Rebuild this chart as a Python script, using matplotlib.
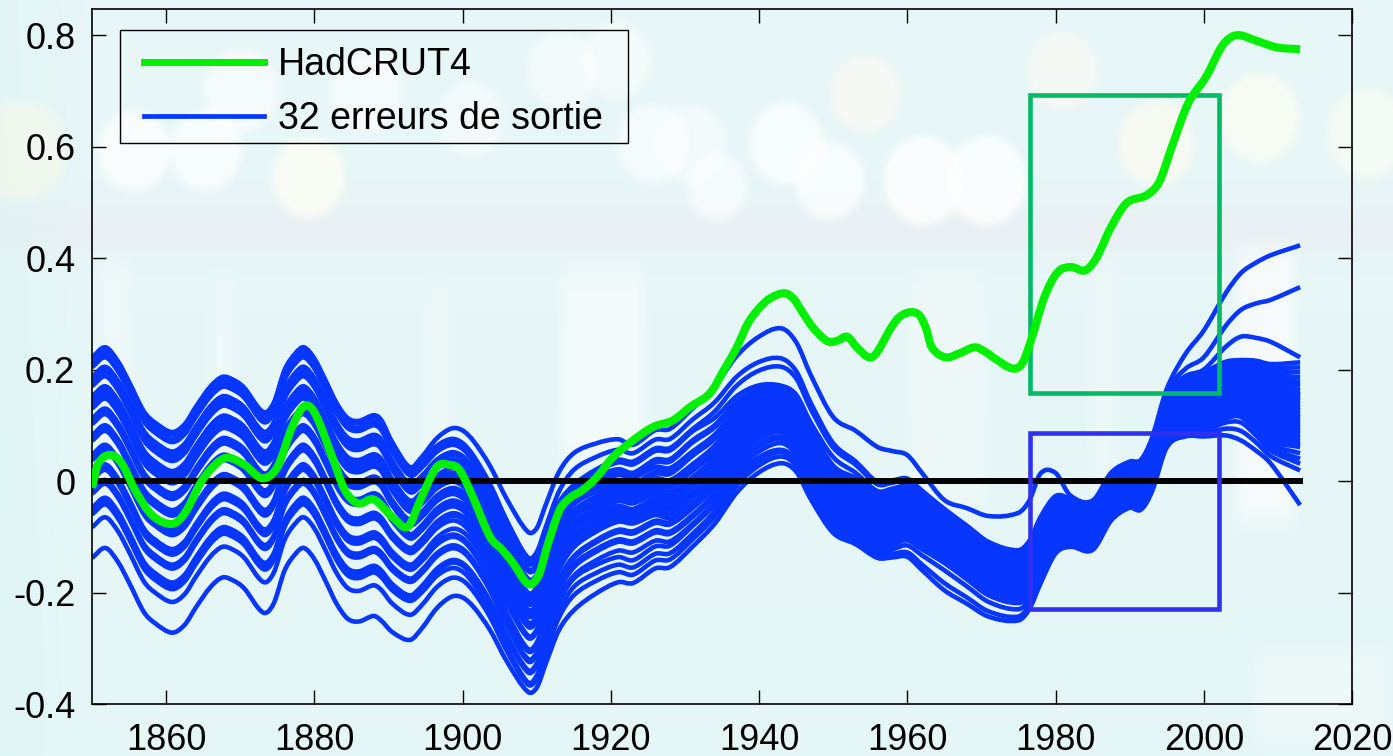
import numpy as np
import matplotlib
matplotlib.use("Agg")
import matplotlib.pyplot as plt
from matplotlib.patches import Rectangle, PathPatch
from matplotlib.path import Path
from matplotlib.lines import Line2D

plt.rcParams['font.family'] = ['Liberation Sans', 'DejaVu Sans']
plt.rcParams['axes.unicode_minus'] = False

# HadCRUT4 smoothed anomaly
had_years = [1850.0, 1850.8, 1852.4, 1854.0, 1855.8, 1858.1, 1860.8, 1862.5, 1864.8, 1867.0,
             1868.4, 1870.6, 1873.0, 1875.0, 1877.0, 1878.7, 1880.1, 1882.4, 1884.1, 1885.9,
             1888.0, 1890.5, 1892.6, 1894.3, 1896.5, 1898.3, 1899.6, 1901.4, 1903.7, 1905.4,
             1906.8, 1908.9, 1910.3, 1911.4, 1913.1, 1914.5, 1916.2, 1918.1, 1920.3, 1923.0,
             1925.7, 1928.4, 1930.7, 1933.4, 1935.5, 1937.0, 1938.5, 1940.0, 1941.5, 1943.4,
             1944.6, 1946.0, 1947.0, 1948.2, 1949.4, 1950.6, 1951.9, 1953.2, 1954.8, 1955.8,
             1957.9, 1959.0, 1960.4, 1961.6, 1962.5, 1963.3, 1965.2, 1967.0, 1969.1, 1970.5,
             1971.8, 1974.2, 1975.5, 1976.7, 1978.5, 1980.3, 1982.1, 1984.0, 1985.5, 1987.5,
             1989.6, 1992.3, 1994.0, 1995.7, 1997.9, 2000.3, 2002.3, 2003.5, 2004.8, 2006.9,
             2009.9, 2013.0]
had_vals = [-0.012, 0.030, 0.047, 0.032, -0.016, -0.061, -0.077, -0.058, 0.000, 0.034,
            0.042, 0.029, 0.005, 0.025, 0.097, 0.135, 0.121, 0.044, -0.016, -0.040,
            -0.033, -0.064, -0.082, -0.034, 0.025, 0.029, 0.020, -0.029, -0.100, -0.124,
            -0.147, -0.185, -0.168, -0.118, -0.052, -0.030, -0.016, 0.007, 0.043, 0.073,
            0.097, 0.109, 0.133, 0.158, 0.205, 0.240, 0.283, 0.310, 0.328, 0.337,
            0.328, 0.300, 0.280, 0.262, 0.250, 0.252, 0.259, 0.240, 0.222, 0.229,
            0.277, 0.295, 0.303, 0.298, 0.275, 0.240, 0.222, 0.229, 0.240, 0.232,
            0.220, 0.202, 0.211, 0.253, 0.330, 0.375, 0.384, 0.378, 0.400, 0.456,
            0.499, 0.513, 0.537, 0.600, 0.678, 0.725, 0.777, 0.795, 0.800, 0.791,
            0.778, 0.775]

# centre line of the 32 output-error curves
err_years = [1850.0, 1851.8, 1853.5, 1855.0, 1857.0, 1858.5, 1860.8, 1862.5, 1864.0, 1866.0,
             1867.6, 1869.0, 1870.5, 1873.1, 1874.5, 1876.0, 1877.5, 1878.6, 1880.0, 1881.5,
             1883.0, 1884.5, 1886.0, 1888.0, 1889.0, 1890.5, 1892.9, 1894.5, 1896.5, 1898.5,
             1900.0, 1901.5, 1903.7, 1906.0, 1908.8, 1910.0, 1911.2, 1913.0, 1915.0, 1918.0,
             1921.0, 1923.0, 1926.0, 1928.0, 1931.0, 1934.0, 1937.0, 1940.0, 1943.0, 1945.0,
             1947.0, 1950.0, 1953.0, 1956.0, 1958.0, 1960.0, 1962.0, 1965.0, 1968.0, 1971.0,
             1975.0, 1976.5, 1978.0, 1980.0, 1982.0, 1985.0, 1987.5, 1990.0, 1991.5, 1993.0,
             1995.0, 1997.5, 2000.0, 2003.0, 2005.0, 2007.0, 2009.0, 2013.0]
err_centre = [0.052, 0.070, 0.045, 0.008, -0.045, -0.065, -0.082, -0.068, -0.037, 0.000,
              0.017, 0.012, -0.002, -0.046, -0.030, 0.030, 0.060, 0.070, 0.050, 0.011,
              -0.030, -0.057, -0.062, -0.052, -0.060, -0.100, -0.145, -0.125, -0.090, -0.070,
              -0.072, -0.090, -0.132, -0.190, -0.245, -0.235, -0.190, -0.125, -0.085, -0.060,
              -0.045, -0.050, -0.035, -0.040, -0.015, 0.020, 0.070, 0.100, 0.110, 0.095,
              0.045, -0.015, -0.035, -0.060, -0.055, -0.050, -0.070, -0.100, -0.130, -0.160,
              -0.175, -0.160, -0.120, -0.075, -0.071, -0.080, -0.030, -0.010, -0.010, 0.026,
              0.110, 0.140, 0.150, 0.165, 0.165, 0.150, 0.130, 0.100]

# spread of the 32 curves about the centre line, top to bottom
spread_years = [1850.0, 1889.0, 1892.9, 1908.8, 1915.0, 1923.0, 1931.0, 1943.0, 1950.0, 1956.0,
                1965.0, 1975.0, 1978.0, 1982.0, 1990.0, 1995.0, 2000.0, 2005.0, 2009.0, 2013.0]
spread_early = [0.170, 0.166, 0.158, 0.152, 0.135, 0.130, 0.124, 0.118, 0.100, 0.096,
                0.090, 0.084, 0.078, 0.060, 0.055, 0.050, 0.030, 0.026, 0.020, -0.005,
                -0.010, -0.015, -0.040, -0.045, -0.050, -0.068, -0.075, -0.100, -0.106, -0.112,
                -0.135, -0.190]
spread = [
    spread_early,
    spread_early,
    [0.170, 0.166, 0.160, 0.155, 0.140, 0.135, 0.130, 0.125, 0.110, 0.106, 0.100, 0.095, 0.090,
     0.075, 0.070, 0.066, 0.050, 0.046, 0.042, 0.025, 0.020, 0.016, -0.005, -0.010, -0.014,
     -0.030, -0.036, -0.060, -0.065, -0.070, -0.095, -0.140],
    [0.154, 0.108, 0.103, 0.098, 0.088, 0.084, 0.070, 0.066, 0.062, 0.045, 0.040, 0.035, 0.030,
     0.025, 0.015, 0.011, 0.007, 0.003, -0.008, -0.012, -0.016, -0.032, -0.036, -0.056, -0.060,
     -0.074, -0.078, -0.094, -0.098, -0.116, -0.120, -0.133],
    [0.135, 0.105, 0.078, 0.074, 0.070, 0.066, 0.055, 0.051, 0.047, 0.043, 0.032, 0.028, 0.024,
     0.020, 0.010, 0.006, 0.002, -0.002, -0.012, -0.016, -0.020, -0.030, -0.034, -0.050, -0.054,
     -0.065, -0.070, -0.085, -0.090, -0.105, -0.120, -0.147],
    [0.115, 0.100, 0.085, 0.080, 0.065, 0.060, 0.056, 0.045, 0.041, 0.037, 0.033, 0.029, 0.022,
     0.018, 0.014, 0.010, 0.000, -0.004, -0.008, -0.012, -0.018, -0.022, -0.026, -0.040, -0.044,
     -0.058, -0.062, -0.078, -0.092, -0.105, -0.118, -0.133],
    [0.145, 0.125, 0.108, 0.104, 0.088, 0.084, 0.068, 0.064, 0.060, 0.045, 0.041, 0.037, 0.033,
     0.022, 0.018, 0.014, 0.010, 0.006, -0.004, -0.008, -0.012, -0.016, -0.026, -0.030, -0.034,
     -0.046, -0.050, -0.062, -0.066, -0.080, -0.090, -0.103],
    [0.164, 0.110, 0.095, 0.061, 0.057, 0.053, 0.049, 0.045, 0.041, 0.038, 0.034, 0.030, 0.026,
     0.022, 0.018, 0.017, 0.013, 0.009, 0.005, 0.001, -0.004, -0.008, -0.012, -0.018, -0.022,
     -0.030, -0.034, -0.042, -0.054, -0.058, -0.066, -0.078],
    [0.130, 0.083, 0.075, 0.058, 0.043, 0.039, 0.035, 0.031, 0.027, 0.023, 0.016, 0.012, 0.008,
     0.004, 0.000, -0.003, -0.009, -0.013, -0.017, -0.021, -0.025, -0.032, -0.036, -0.040, -0.047,
     -0.051, -0.055, -0.062, -0.066, -0.070, -0.073, -0.078],
    [0.121, 0.058, 0.054, 0.042, 0.038, 0.032, 0.028, 0.024, 0.020, 0.016, 0.012, 0.008, 0.002,
     -0.002, -0.006, -0.010, -0.014, -0.018, -0.022, -0.026, -0.030, -0.034, -0.040, -0.044,
     -0.048, -0.052, -0.056, -0.060, -0.064, -0.070, -0.074, -0.078],
    [0.066, 0.050, 0.045, 0.040, 0.036, 0.032, 0.028, 0.024, 0.020, 0.016, 0.012, 0.009, 0.006,
     0.003, 0.000, -0.003, -0.006, -0.009, -0.012, -0.015, -0.018, -0.021, -0.024, -0.027, -0.030,
     -0.034, -0.038, -0.042, -0.047, -0.060, -0.083, -0.096],
    [0.118, 0.051, 0.046, 0.042, 0.038, 0.034, 0.030, 0.026, 0.022, 0.018, 0.014, 0.011, 0.008,
     0.005, 0.002, -0.001, -0.004, -0.007, -0.010, -0.013, -0.016, -0.019, -0.022, -0.025, -0.028,
     -0.032, -0.036, -0.040, -0.044, -0.055, -0.068, -0.075],
    [0.134, 0.056, 0.050, 0.045, 0.040, 0.035, 0.031, 0.027, 0.023, 0.019, 0.015, 0.011, 0.008,
     0.005, 0.002, -0.001, -0.004, -0.007, -0.010, -0.013, -0.016, -0.019, -0.022, -0.025, -0.028,
     -0.031, -0.035, -0.039, -0.044, -0.050, -0.056, -0.063],
    [0.045, 0.040, 0.036, 0.032, 0.029, 0.026, 0.023, 0.020, 0.017, 0.014, 0.011, 0.008, 0.005,
     0.003, 0.001, -0.001, -0.003, -0.005, -0.008, -0.011, -0.014, -0.017, -0.020, -0.023, -0.026,
     -0.029, -0.032, -0.035, -0.038, -0.041, -0.044, -0.047],
    [0.045, 0.042, 0.039, 0.036, 0.033, 0.030, 0.027, 0.024, 0.021, 0.018, 0.015, 0.012, 0.009,
     0.006, 0.003, 0.000, -0.002, -0.004, -0.006, -0.008, -0.010, -0.012, -0.014, -0.016, -0.018,
     -0.020, -0.023, -0.026, -0.029, -0.032, -0.035, -0.038],
    [0.055, 0.050, 0.046, 0.042, 0.038, 0.034, 0.030, 0.026, 0.022, 0.018, 0.014, 0.010, 0.007,
     0.004, 0.001, -0.002, -0.005, -0.008, -0.011, -0.014, -0.017, -0.020, -0.023, -0.026, -0.029,
     -0.032, -0.035, -0.038, -0.041, -0.044, -0.047, -0.050],
    [0.120, 0.072, 0.050, 0.045, 0.040, 0.036, 0.032, 0.028, 0.024, 0.020, 0.016, 0.012, 0.008,
     0.004, 0.000, -0.004, -0.008, -0.012, -0.016, -0.020, -0.024, -0.028, -0.032, -0.036, -0.040,
     -0.044, -0.048, -0.052, -0.056, -0.060, -0.065, -0.070],
    [0.208, 0.142, 0.094, 0.052, 0.047, 0.042, 0.038, 0.034, 0.030, 0.026, 0.022, 0.018, 0.014,
     0.010, 0.006, 0.002, -0.002, -0.006, -0.010, -0.014, -0.018, -0.022, -0.026, -0.030, -0.034,
     -0.038, -0.042, -0.046, -0.050, -0.060, -0.075, -0.092],
    [0.275, 0.195, 0.120, 0.080, 0.074, 0.068, 0.062, 0.056, 0.050, 0.044, 0.038, 0.032, 0.026,
     0.020, 0.014, 0.008, 0.002, -0.004, -0.010, -0.016, -0.022, -0.028, -0.034, -0.040, -0.046,
     -0.052, -0.058, -0.064, -0.070, -0.075, -0.085, -0.098],
    [0.323, 0.248, 0.122, 0.113, 0.104, 0.095, 0.086, 0.078, 0.071, 0.063, 0.056, 0.051, 0.045,
     0.039, 0.033, 0.027, 0.021, 0.015, 0.009, 0.003, -0.003, -0.009, -0.015, -0.021, -0.028,
     -0.034, -0.039, -0.050, -0.060, -0.069, -0.081, -0.143],
]

# highlighted periods: (x0, x1, y0, y1)
box_warm = (1976.5, 2002.0, 0.158, 0.692)
box_err = (1976.5, 2002.0, -0.230, 0.086)

x_ticks = [1860, 1880, 1900, 1920, 1940, 1960, 1980, 2000, 2020]
y_ticks = [-0.4, -0.2, 0, 0.2, 0.4, 0.6, 0.8]

GREEN = '#00F000'
BLUE = '#0636FF'
W, H = 1393, 756


def smooth_path(x, y):
    # cubic Hermite segments through the points, slopes from neighbours
    x = np.asarray(x, float)
    y = np.asarray(y, float)
    m = np.empty_like(y)
    m[1:-1] = (y[2:] - y[:-2]) / (x[2:] - x[:-2])
    m[0] = (y[1] - y[0]) / (x[1] - x[0])
    m[-1] = (y[-1] - y[-2]) / (x[-1] - x[-2])
    verts = [(x[0], y[0])]
    codes = [Path.MOVETO]
    for i in range(len(x) - 1):
        h = x[i + 1] - x[i]
        verts += [(x[i] + h / 3, y[i] + m[i] * h / 3),
                  (x[i + 1] - h / 3, y[i + 1] - m[i + 1] * h / 3),
                  (x[i + 1], y[i + 1])]
        codes += [Path.CURVE4] * 3
    return Path(verts, codes)


def backdrop(h, w):
    yy, xx = np.mgrid[0:h, 0:w].astype(float)
    img = np.empty((h, w, 3))
    top = np.array([0.91, 0.965, 0.97])
    low = np.array([0.90, 0.968, 0.968])
    t = (yy / h)[..., None]
    img[:] = top * (1 - t) + low * t
    # greyish horizon band
    band = np.exp(-((yy - 228) / 28.0) ** 2)[..., None] * 0.55
    img = img * (1 - band) + np.array([0.925, 0.925, 0.945]) * band
    # cyan tint at far left
    edge = np.clip(1 - xx / 90.0, 0, 1)[..., None] * 0.35
    img = img * (1 - edge) + np.array([0.84, 0.95, 0.96]) * edge

    def blend(mask, color):
        nonlocal img
        mk = mask[..., None]
        img = img * (1 - mk) + np.array(color) * mk

    # soft pale columns in the lower half
    columns = [(95, 135, 250, 520, 0.45), (205, 240, 260, 500, 0.35), (420, 455, 270, 520, 0.35),
               (555, 650, 255, 470, 0.6), (905, 990, 260, 520, 0.4), (1085, 1120, 250, 500, 0.3),
               (1230, 1300, 235, 535, 0.75), (1250, 1393, 640, 756, 0.35)]
    for x0, x1, y0, y1, a in columns:
        mx = np.clip(np.minimum(xx - x0, x1 - xx) / 14.0, 0, 1)
        my = np.clip(np.minimum(yy - y0, y1 - yy) / 30.0, 0, 1)
        blend(mx * my * a, (0.985, 0.99, 0.99))

    # bokeh discs
    discs = [(20, 150, 45, (1.0, 0.98, 0.9), 0.45), (134, 150, 36, (1, 1, 1), 0.75),
             (205, 150, 36, (1, 1, 1), 0.7), (241, 90, 37, (1, 1, 1), 0.6),
             (308, 177, 36, (1.0, 1.0, 0.96), 0.75), (366, 93, 36, (1, 1, 1), 0.6),
             (470, 118, 33, (1, 1, 1), 0.5), (562, 70, 35, (1, 1, 1), 0.5),
             (616, 60, 35, (1, 1, 1), 0.45), (652, 143, 35, (1, 1, 1), 0.6),
             (690, 143, 35, (1, 1, 1), 0.5), (717, 187, 30, (1, 1, 1), 0.6),
             (786, 143, 37, (1, 1, 1), 0.7), (829, 180, 35, (1, 1, 1), 0.7),
             (865, 93, 35, (1.0, 0.98, 0.96), 0.6), (923, 180, 40, (1, 1, 1), 0.8),
             (986, 180, 40, (1, 1, 1), 0.8), (1062, 70, 35, (1.0, 0.98, 0.96), 0.55),
             (1156, 143, 38, (1.0, 0.99, 0.94), 0.65), (1259, 117, 40, (1.0, 1.0, 0.95), 0.65),
             (1367, 133, 40, (1.0, 1.0, 0.95), 0.55)]
    for cx, cy, r, col, a in discs:
        d = np.hypot(xx - cx, (yy - cy) * 0.9)
        blend(np.clip((r - d) / 10.0 + 0.5, 0, 1) * a, col)
    return np.clip(img, 0, 1)


fig = plt.figure(figsize=(W / 100, H / 100), dpi=100)
bg = fig.add_axes([0, 0, 1, 1])
bg.imshow(backdrop(H, W), aspect='auto', interpolation='bilinear')
bg.axis('off')

ax = fig.add_axes([92 / W, 1 - 704 / H, 1260 / W, 695 / H])
ax.patch.set_alpha(0)

yrs = np.array(err_years)
centre = np.array(err_centre)
offs = np.array(spread)
for i in range(offs.shape[1]):
    member = centre + np.interp(yrs, spread_years, offs[:, i])
    ax.add_patch(PathPatch(smooth_path(yrs, member), fill=False, edgecolor=BLUE, lw=3.3,
                           joinstyle='round', capstyle='butt', zorder=2))

ax.plot([err_years[0], err_years[-1]], [0, 0], color='black', lw=4.3, zorder=3)

for (x0, x1, y0, y1), col in [(box_warm, '#00BA66'), (box_err, '#3030F0')]:
    ax.add_patch(Rectangle((x0, y0), x1 - x0, y1 - y0, fill=False, edgecolor=col,
                           lw=3.3, zorder=4))

ax.add_patch(PathPatch(smooth_path(had_years, had_vals), fill=False, edgecolor=GREEN, lw=5.8,
                       joinstyle='round', capstyle='butt', zorder=5))

ax.set_xlim(1850, 2020)
ax.set_ylim(-0.4, 0.847)
ax.set_xticks(x_ticks)
ax.set_yticks(y_ticks)
ax.set_yticklabels(['%g' % v for v in y_ticks])
ax.tick_params(direction='in', length=10, width=1.0, top=True, right=True, labelsize=26)
ax.tick_params(axis='y', pad=12)
ax.tick_params(axis='x', pad=14)
for s in ax.spines.values():
    s.set_linewidth(1.2)

# legend box drawn separately, entries placed inside it
ax.add_patch(Rectangle((28 / 1260, 561 / 695), 508 / 1260, 113 / 695, transform=ax.transAxes,
                       fill=False, edgecolor='black', lw=1.0, zorder=6))
handles = [Line2D([], [], color=GREEN, lw=5.0), Line2D([], [], color=BLUE, lw=3.4)]
ax.legend(handles, ['HadCRUT4', '32 erreurs de sortie'], loc='upper left',
          bbox_to_anchor=(52 / 1260, 1 - 38 / 695), borderaxespad=0, borderpad=0,
          fontsize=27, handlelength=3.2, handletextpad=0.37, labelspacing=0.49,
          frameon=False)

fig.savefig('out.png', dpi=100)
